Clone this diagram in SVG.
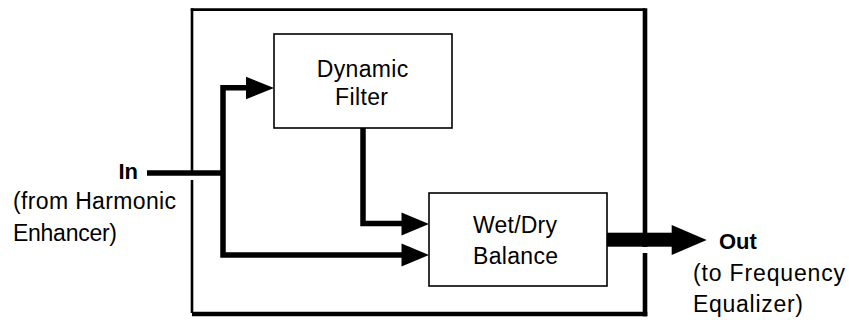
<svg xmlns="http://www.w3.org/2000/svg" width="849" height="320" viewBox="0 0 849 320">
<style>
text{font-family:"Liberation Sans",Arial,sans-serif;font-size:23px;fill:#000}
.b{font-weight:bold;font-size:22px}
.box{fill:#fff;stroke:#000;stroke-width:1.6}
.w{stroke:#000;stroke-width:5.5;fill:none}
.head{fill:#000}
</style>
<rect width="849" height="320" fill="#fff"/>
<g id="container">
<line x1="190.8" y1="9.6" x2="645" y2="9.6" stroke="#000" stroke-width="2.6"/>
<line x1="192" y1="8.3" x2="192" y2="171" stroke="#000" stroke-width="2.6"/>
<line x1="192" y1="180" x2="192" y2="313" stroke="#000" stroke-width="2.6"/>
<line x1="645" y1="8.3" x2="645" y2="247" stroke="#000" stroke-width="4.6"/>
<line x1="645" y1="253" x2="645" y2="316.3" stroke="#000" stroke-width="4.6"/>
<line x1="192" y1="314" x2="647.3" y2="314" stroke="#000" stroke-width="4.6"/>
</g>
<g id="connectors">
<polyline class="w" points="147,173 223,173"/>
<polyline class="w" points="250,87.8 223,87.8 223,255 404,255"/>
<polyline class="w" points="363,128 363,223.5 404,223.5"/>
<polygon class="head" points="246,76.7 274,88 246,99.3"/>
<polygon class="head" points="401.5,243.5 429,255 401.5,266.5"/>
<polygon class="head" points="401.5,212.5 429,224 401.5,235.5"/>
<rect x="607" y="232.7" width="66" height="14"/>
<polygon class="head" points="671.7,225 706.7,240 671.7,255"/>
</g>
<g id="in-label">
<text class="b" x="138" y="179" text-anchor="end">In</text>
<text x="13" y="209" textLength="163" lengthAdjust="spacing">(from Harmonic</text>
<text x="13" y="241" textLength="104" lengthAdjust="spacing">Enhancer)</text>
</g>
<g id="dynamic-filter">
<rect class="box" x="274" y="34" width="178" height="94"/>
<text x="316.7" y="76.7" textLength="91.6" lengthAdjust="spacing">Dynamic</text>
<text x="335" y="105" textLength="53" lengthAdjust="spacing">Filter</text>
</g>
<g id="wet-dry-balance">
<rect class="box" x="429" y="193" width="178" height="93"/>
<text x="473" y="233" textLength="84" lengthAdjust="spacing">Wet/Dry</text>
<text x="473" y="264" textLength="85" lengthAdjust="spacing">Balance</text>
</g>
<g id="out-label">
<text class="b" x="719" y="249">Out</text>
<text x="693" y="281" textLength="152" lengthAdjust="spacing">(to Frequency</text>
<text x="693" y="312" textLength="110" lengthAdjust="spacing">Equalizer)</text>
</g>
</svg>
